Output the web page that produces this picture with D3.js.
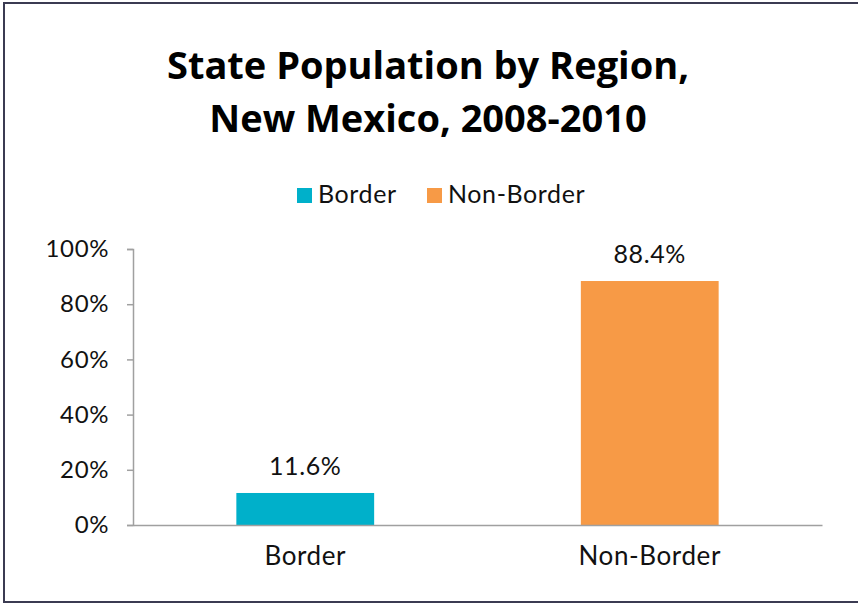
<!DOCTYPE html>
<html>
<head>
<meta charset="utf-8">
<script src="https://cdn.jsdelivr.net/npm/d3@7/dist/d3.min.js"></script>
<style>
  html, body { margin: 0; padding: 0; background: #fff; }
  svg { display: block; }
</style>
</head>
<body>
<svg id="chart" width="858" height="604"></svg>
<script>
// Share of New Mexico's state population by region, 2008-2010
const categories = ["Border", "Non-Border"];
const shares = [0.116, 0.884];
const seriesColors = ["#00B0CA", "#F79A46"];
const yTicks = [0, 0.2, 0.4, 0.6, 0.8, 1.0];
const titleLines = ["State Population by Region,", "New Mexico, 2008-2010"];

const svg = d3.select("#chart");
const labelFont = "Lato, 'Open Sans', sans-serif";

// outer frame
svg.append("rect")
  .attr("x", 4).attr("y", 3)
  .attr("width", 860).attr("height", 599)
  .attr("fill", "#fff")
  .attr("stroke", "#3b3b52")
  .attr("stroke-width", 2);

// plot area
const plot = { left: 133, right: 822, top: 249, bottom: 525 };

const x = d3.scaleBand().domain(categories).range([plot.left, plot.right]).padding(0);
const y = d3.scaleLinear().domain([0, 1]).range([plot.bottom, plot.top]);
const barW = x.bandwidth() * 0.4;

// title
svg.append("g").selectAll("text")
  .data(titleLines)
  .join("text")
  .attr("x", 428)
  .attr("y", (d, i) => 79 + i * 53)
  .attr("text-anchor", "middle")
  .attr("font-family", "'Open Sans', sans-serif")
  .attr("font-weight", 700)
  .attr("font-size", 38)
  .attr("letter-spacing", 0)
  .attr("fill", "#000")
  .text(d => d);

// legend
const legendItems = [
  { label: categories[0], color: seriesColors[0], x: 297 },
  { label: categories[1], color: seriesColors[1], x: 427 }
];
const lg = svg.append("g").selectAll("g")
  .data(legendItems)
  .join("g")
  .attr("transform", d => `translate(${d.x},188)`);
lg.append("rect")
  .attr("width", 15).attr("height", 15)
  .attr("fill", d => d.color);
lg.append("text")
  .attr("x", 21).attr("y", 15)
  .attr("font-family", labelFont)
  .attr("font-size", 25)
  .attr("letter-spacing", 0.6)
  .attr("fill", "#111")
  .text(d => d.label);

// y axis
const yAxis = d3.axisLeft(y)
  .tickValues(yTicks)
  .tickFormat(d3.format(".0%"))
  .tickSize(6)
  .tickPadding(18);
const gy = svg.append("g")
  .attr("transform", `translate(${plot.left},0)`)
  .call(yAxis);
gy.select(".domain").attr("stroke", "#a0a0a0").attr("stroke-width", 1.5);
gy.selectAll(".tick line").attr("stroke", "#a0a0a0").attr("stroke-width", 1.5);
gy.selectAll(".tick text")
  .attr("font-family", labelFont)
  .attr("font-size", 24)
  .attr("letter-spacing", 0.6)
  .attr("fill", "#111");

// bars
svg.append("g").selectAll("rect")
  .data(categories)
  .join("rect")
  .attr("x", d => x(d) + (x.bandwidth() - barW) / 2)
  .attr("y", (d, i) => y(shares[i]))
  .attr("width", barW)
  .attr("height", (d, i) => y(0) - y(shares[i]))
  .attr("fill", (d, i) => seriesColors[i]);

// x axis baseline
const xAxis = d3.axisBottom(x).tickSize(0).tickPadding(22);
const gx = svg.append("g")
  .attr("transform", `translate(0,${plot.bottom})`)
  .call(xAxis);
gx.select(".domain").attr("stroke", "#a0a0a0").attr("stroke-width", 1.5);
gx.selectAll(".tick text")
  .attr("font-family", labelFont)
  .attr("font-size", 26)
  .attr("letter-spacing", 0.6)
  .attr("fill", "#111");

// value labels
svg.append("g").selectAll("text")
  .data(categories)
  .join("text")
  .attr("x", d => x(d) + x.bandwidth() / 2)
  .attr("y", (d, i) => y(shares[i]) - 18)
  .attr("text-anchor", "middle")
  .attr("font-family", labelFont)
  .attr("font-size", 25)
  .attr("letter-spacing", 0.6)
  .attr("fill", "#111")
  .text((d, i) => d3.format(".1%")(shares[i]));
</script>
</body>
</html>
